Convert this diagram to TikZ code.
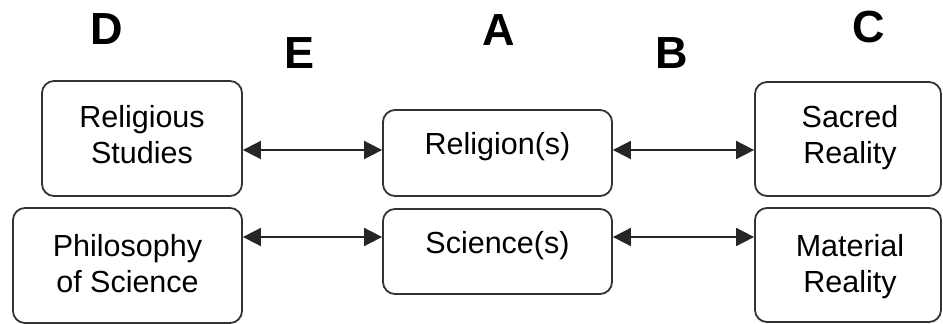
\documentclass[tikz,border=0pt]{standalone}
\usepackage{fontspec}
\setmainfont{Liberation Sans}
\usetikzlibrary{arrows.meta}
\tikzset{
  box/.style={draw=black!80, line width=1.8pt, rounded corners=12pt, inner sep=0pt},
  txt/.style={anchor=base, inner sep=0pt, align=center, font=\fontsize{30.5}{36}\selectfont},
  lbl/.style={inner sep=0pt, font=\fontsize{45}{45}\selectfont\bfseries},
  arr/.style={line width=1.8pt, draw=black!85, {Triangle[length=18pt,width=18pt]}-{Triangle[length=18pt,width=18pt]}}
}
\begin{document}
\begin{tikzpicture}[x=1pt,y=-1pt]
\useasboundingbox (0,0) rectangle (943,324);
% boxes
\node[box, minimum width=200pt, minimum height=115pt] (rs) at (142,138.5) {};
\node[box, minimum width=229pt, minimum height=115pt] (ps) at (127.5,265.5) {};
\node[box, minimum width=229pt, minimum height=86pt] (rel) at (497.5,153) {};
\node[box, minimum width=229pt, minimum height=85pt] (sci) at (497.5,251.5) {};
\node[box, minimum width=186pt, minimum height=114pt] (sr) at (848,139) {};
\node[box, minimum width=186pt, minimum height=114pt] (mr) at (848,265) {};
% texts (base = baseline of last line)
\node[txt] (rst) at (142,163) {Religious\\Studies};
\node[txt] (pst) at (127.5,292) {Philosophy\\of Science};
\node[txt] (relt) at (497.5,154) {Religion(s)};
\node[txt] (scit) at (497.5,253) {Science(s)};
\node[txt] (srt) at (850,163) {Sacred\\Reality};
\node[txt] (mrt) at (850,292) {Material\\Reality};
% letters
\node[lbl] (D) at (107,29) {D};
\node[lbl] (E) at (300,53.5) {E};
\node[lbl] (A) at (499,30.5) {A};
\node[lbl] (B) at (671.5,53) {B};
\node[lbl] (C) at (868.5,27) {C};
% arrows
\draw[arr] (rs.east |- 0,150) -- (rel.west |- 0,150);
\draw[arr] (rel.east |- 0,150) -- (sr.west |- 0,150);
\draw[arr] (ps.east |- 0,237) -- (sci.west |- 0,237);
\draw[arr] (sci.east |- 0,237) -- (mr.west |- 0,237);
\end{tikzpicture}
\end{document}
